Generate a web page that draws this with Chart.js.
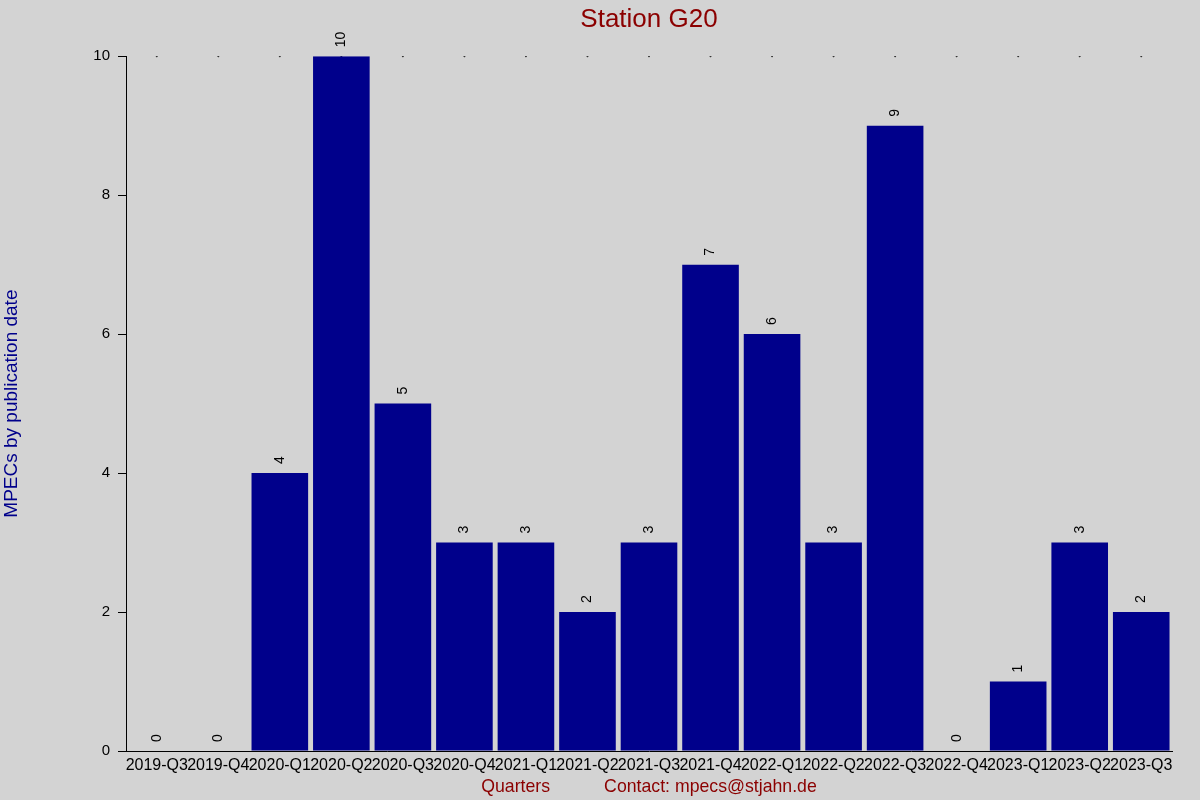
<!DOCTYPE html>
<html>
<head>
<meta charset="utf-8">
<script src="https://cdn.jsdelivr.net/npm/chart.js@4"></script>
<style>
  html, body { margin: 0; padding: 0; background: #d3d3d3; }
</style>
</head>
<body>
<canvas id="barChart" width="1200" height="800"></canvas>
<script>
const quarters = ["2019-Q3", "2019-Q4", "2020-Q1", "2020-Q2", "2020-Q3", "2020-Q4",
  "2021-Q1", "2021-Q2", "2021-Q3", "2021-Q4", "2022-Q1", "2022-Q2", "2022-Q3",
  "2022-Q4", "2023-Q1", "2023-Q2", "2023-Q3"];
const mpecs = [0, 0, 4, 10, 5, 3, 3, 2, 3, 7, 6, 3, 9, 0, 1, 3, 2];
const topDots = [10, 10, 10, 10, 10, 10, 10, 10, 10, 10, 10, 10, 10, 10, 10, 10, 10];
const yTicks = [0, 2, 4, 6, 8, 10];

// rotated value labels above each bar
const valueLabels = {
  id: "valueLabels",
  afterDatasetsDraw(chart) {
    const ctx = chart.ctx;
    const meta = chart.getDatasetMeta(1);
    ctx.save();
    ctx.fillStyle = "#000";
    ctx.font = "14px 'Liberation Sans', Arial, sans-serif";
    ctx.textAlign = "left";
    ctx.textBaseline = "middle";
    meta.data.forEach((bar, i) => {
      ctx.save();
      ctx.translate(bar.x, bar.y - 9);
      ctx.rotate(-Math.PI / 2);
      ctx.fillText(String(mpecs[i]), 0, 0);
      ctx.restore();
    });
    ctx.restore();
  }
};

new Chart(document.getElementById("barChart"), {
  data: {
    labels: quarters,
    datasets: [{
      type: "line",
      data: topDots,
      showLine: false,
      pointRadius: 1,
      pointBackgroundColor: "#000",
      pointBorderWidth: 0,
      order: 2
    }, {
      type: "bar",
      data: mpecs,
      backgroundColor: "#00008b",
      barPercentage: 0.92,
      categoryPercentage: 1.0,
      order: 1
    }]
  },
  options: {
    responsive: false,
    devicePixelRatio: 1,
    animation: false,
    layout: { padding: { top: 0, right: 28, bottom: 0, left: 0 } },
    plugins: {
      legend: { display: false },
      tooltip: { enabled: false },
      title: {
        display: true,
        fullSize: false,
        text: "Station G20",
        color: "#8b0000",
        font: { family: "'Liberation Sans', Arial, sans-serif", size: 26, weight: "normal" },
        padding: { top: 4, bottom: 21 }
      }
    },
    scales: {
      x: {
        grid: { display: false, drawTicks: false },
        border: { display: true, color: "#000", width: 1 },
        ticks: {
          color: "#000",
          maxRotation: 0,
          autoSkip: false,
          padding: 5,
          font: { family: "'Liberation Sans', Arial, sans-serif", size: 16 }
        },
        title: {
          display: true,
          text: "Quarters           Contact: mpecs@stjahn.de",
          color: "#8b0000",
          padding: { top: 0, bottom: 2 },
          font: { family: "'Liberation Sans', Arial, sans-serif", size: 17.7 }
        },
        afterFit(scale) { scale.height = 49; }
      },
      y: {
        min: 0,
        max: 10,
        afterBuildTicks(scale) { scale.ticks = yTicks.map(v => ({ value: v })); },
        grid: { display: true, drawOnChartArea: false, drawTicks: true, tickLength: 8, color: "#000" },
        border: { display: true, color: "#000", width: 1 },
        ticks: {
          color: "#000",
          padding: 8,
          font: { family: "'Liberation Sans', Arial, sans-serif", size: 15 }
        },
        title: {
          display: true,
          text: "MPECs by publication date",
          color: "#00008b",
          padding: { top: 0, bottom: 0 },
          font: { family: "'Liberation Sans', Arial, sans-serif", size: 19 }
        },
        afterFit(scale) { scale.width = 126; }
      }
    }
  },
  plugins: [valueLabels]
});
</script>
</body>
</html>
